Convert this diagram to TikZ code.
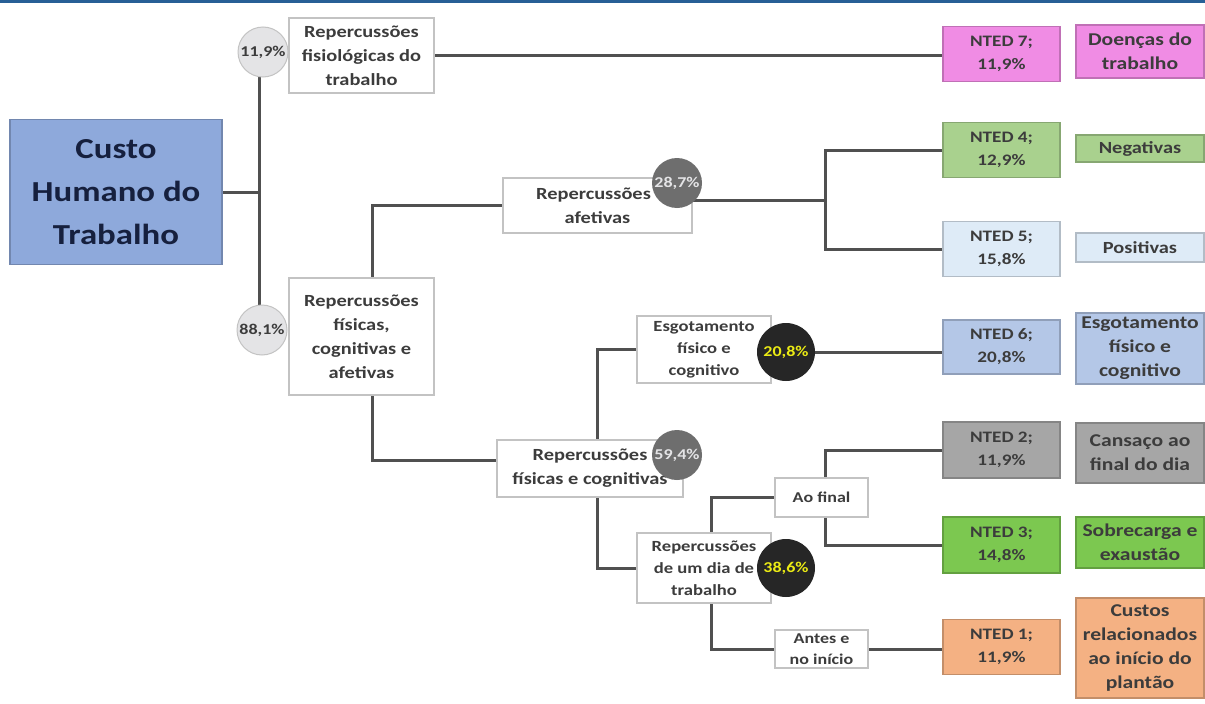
\documentclass[tikz,border=0pt]{standalone}
\usepackage{fontspec}
\setmainfont{Carlito}[FakeStretch=1.2]
\usetikzlibrary{backgrounds}
\definecolor{topblue}{RGB}{40,95,150}
\definecolor{custoblue}{RGB}{142,169,219}
\definecolor{navy}{RGB}{22,32,62}
\definecolor{txt}{RGB}{60,60,60}
\definecolor{boxgray}{RGB}{195,195,195}
\definecolor{linegray}{RGB}{80,80,80}
\definecolor{cpink}{RGB}{240,140,228}
\definecolor{cgreenl}{RGB}{169,209,142}
\definecolor{cpale}{RGB}{222,235,247}
\definecolor{cblue}{RGB}{180,199,231}
\definecolor{cgray}{RGB}{166,166,166}
\definecolor{cgreen}{RGB}{124,200,80}
\definecolor{corange}{RGB}{244,177,131}
\definecolor{lightcirc}{RGB}{228,228,230}
\definecolor{midcirc}{RGB}{110,110,110}
\definecolor{darkcirc}{RGB}{38,38,38}
\definecolor{yel}{RGB}{235,235,20}
\tikzset{
  box/.style={draw=boxgray, line width=1.3pt, fill=white, align=center, text=txt,
    font=\bfseries\fontsize{17}{24}\selectfont, inner sep=1pt},
  smallbox/.style={box, font=\bfseries\fontsize{15.5}{22}\selectfont},
  cbox/.style={box, draw=#1!80!black, fill=#1},
  ntedbox/.style={cbox=#1, font=\bfseries\fontsize{16}{23}\selectfont, minimum width=117pt},
  descbox/.style={cbox=#1, font=\bfseries\fontsize{18}{24}\selectfont, minimum width=128pt},
  circ/.style={circle, inner sep=0pt, font=\bfseries\fontsize{15}{15}\selectfont},
  lightc/.style={circ, fill=lightcirc, draw=boxgray, line width=1pt, text=txt, minimum size=50pt},
  midc/.style={circ, fill=midcirc, text=lightcirc, minimum size=50pt},
  darkc/.style={circ, fill=darkcirc, text=yel, minimum size=58pt},
  conn/.style={draw=linegray, line width=3pt},
}
\begin{document}
\begin{tikzpicture}[x=1pt, y=-1pt]
\useasboundingbox (0,0) rectangle (1205,704);

% root
\node[box, draw=custoblue!80!black, fill=custoblue, text=navy, minimum width=212pt, minimum height=145pt,
  font=\bfseries\fontsize{29}{43}\selectfont] (custo) at (116,192) {Custo\\Humano do\\Trabalho};

% first level
\node[box, minimum width=145pt, minimum height=75pt] (fisio) at (361.5,55.5) {Repercussões\\fisiológicas do\\trabalho};
\node[lightc] (c119) at (263,52) {11,9\%};
\node[box, minimum width=145pt, minimum height=117pt] (fca) at (361.5,336.5) {Repercussões\\físicas,\\cognitivas e\\afetivas};
\node[lightc] (c881) at (262,330) {88,1\%};

% second level
\node[box, minimum width=189pt, minimum height=55pt] (afet) at (597.5,205.5) {Repercussões\hspace*{8pt}\\afetivas};
\node[midc] (c287) at (677,183) {28,7\%};
\node[box, minimum width=186pt, minimum height=57pt] (fc) at (590,468.5) {Repercussões\\físicas e cognitivas};
\node[midc] (c594) at (677,455) {59,4\%};

% third level
\node[smallbox, minimum width=134pt, minimum height=67pt] (esg) at (704,349.5) {Esgotamento\\físico e\\cognitivo};
\node[darkc] (c208) at (786,352) {20,8\%};
\node[smallbox, minimum width=134pt, minimum height=70pt] (dia) at (704,568) {Repercussões\\de um dia de\\trabalho};
\node[darkc] (c386) at (786,568) {38,6\%};
\node[box, minimum width=93pt, minimum height=39pt, font=\bfseries\fontsize{15}{21}\selectfont] (aofinal) at (821.5,497.5) {Ao final};
\node[box, minimum width=93pt, minimum height=38pt, font=\bfseries\fontsize{15}{21}\selectfont] (antes) at (821.5,649) {Antes e\\no início};

% NTED column
\node[ntedbox=cpink, minimum height=55pt] (n7) at (1001.5,54) {NTED 7;\\11,9\%};
\node[ntedbox=cgreenl, minimum height=55pt] (n4) at (1001.5,150) {NTED 4;\\12,9\%};
\node[ntedbox=cpale, minimum height=55pt] (n5) at (1001.5,249) {NTED 5;\\15,8\%};
\node[ntedbox=cblue, minimum height=54pt] (n6) at (1001.5,347) {NTED 6;\\20,8\%};
\node[ntedbox=cgray, minimum height=56pt] (n2) at (1001.5,450) {NTED 2;\\11,9\%};
\node[ntedbox=cgreen, minimum height=56pt] (n3) at (1001.5,545) {NTED 3;\\14,8\%};
\node[ntedbox=corange, minimum height=55pt] (n1) at (1001.5,647) {NTED 1;\\11,9\%};

% description column
\node[descbox=cpink, minimum height=53pt] (d7) at (1140,51.5) {Doenças do\\trabalho};
\node[descbox=cgreenl, minimum height=27pt, font=\bfseries\fontsize{17}{24}\selectfont] (d4) at (1140,148.5) {Negativas};
\node[descbox=cpale, minimum height=29pt, font=\bfseries\fontsize{17}{24}\selectfont] (d5) at (1140,247.5) {Positivas};
\node[descbox=cblue, minimum height=71pt] (d6) at (1140,348.5) {Esgotamento\\físico e\\cognitivo};
\node[descbox=cgray, minimum height=60pt] (d2) at (1140,453) {Cansaço ao\\final do dia};
\node[descbox=cgreen, minimum height=51pt] (d3) at (1140,542.5) {Sobrecarga e\\exaustão};
\node[descbox=corange, minimum height=100pt] (d1) at (1140,648) {Custos\\relacionados\\ao início do\\plantão};

% junction coordinates
\coordinate (tx) at (259,0);
\coordinate (j1) at (372,200);
\coordinate (j2) at (825,200);
\coordinate (j3) at (497,460);
\coordinate (j4) at (597,348);
\coordinate (j5) at (711,497);

\begin{scope}[on background layer]
  \fill[white] (0,0) rectangle (1205,704);
  \fill[topblue] (0,0) rectangle (1205,2.5);
  \draw[conn] (c119.center -| tx) -- (c881.center -| tx);
  \draw[conn] (custo.east) -- (custo.east -| tx);
  \draw[conn] (fisio.east) -- (fisio.east -| n7.west);
  \draw[conn] (fca.north -| j1) |- (afet.west);
  \draw[conn] (afet.east |- j2) -- (j2);
  \draw[conn] (n4.west) -| (j2) |- (n5.west);
  \draw[conn] (fca.south -| j1) |- (j3);
  \draw[conn] (fc.north -| j4) |- (esg.west);
  \draw[conn] (c208.east) -- (c208.east -| n6.west);
  \draw[conn] (fc.south -| j4) |- (dia.west);
  \draw[conn] (dia.north -| j5) |- (aofinal.west);
  \draw[conn] (aofinal.north -| j2) |- (n2.west);
  \draw[conn] (aofinal.south -| j2) |- (n3.west);
  \draw[conn] (dia.south -| j5) |- (antes.west);
  \draw[conn] (antes.east) -- (antes.east -| n1.west);
\end{scope}
\end{tikzpicture}
\end{document}
